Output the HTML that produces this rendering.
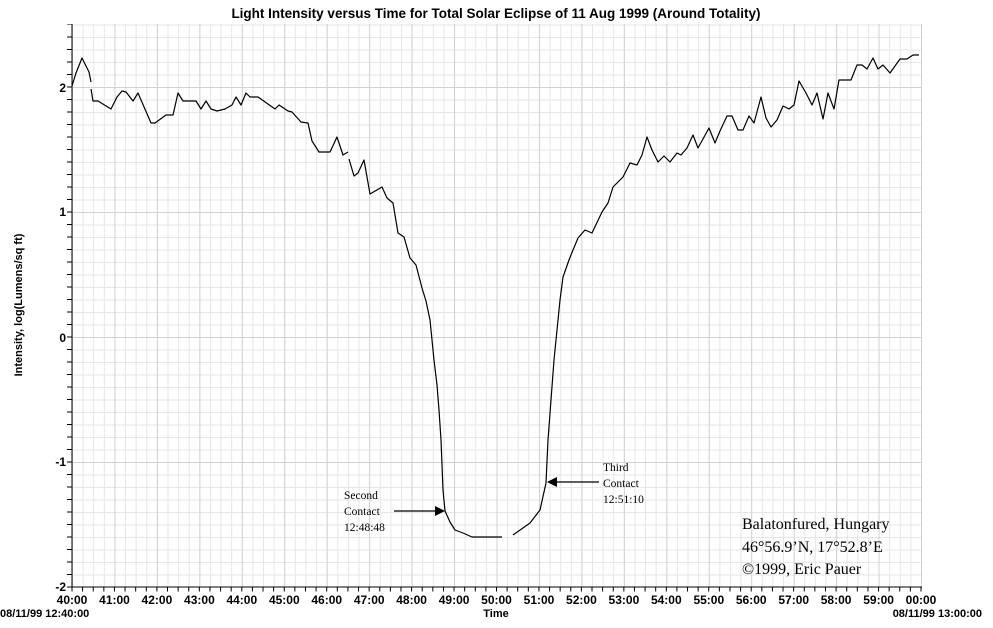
<!DOCTYPE html>
<html><head><meta charset="utf-8"><style>
html,body{margin:0;padding:0;background:#fff}
svg{display:block}
</style></head><body>
<svg width="993" height="628" xmlns="http://www.w3.org/2000/svg">
<defs>
<pattern id="minor" patternUnits="userSpaceOnUse" x="72" y="24.5" width="10.6125" height="12.5">
<rect x="0" y="0" width="1" height="12.5" fill="#e6e6e6"/>
<rect x="0" y="0" width="10.6125" height="1" fill="#e6e6e6"/>
</pattern>
<pattern id="majorv" patternUnits="userSpaceOnUse" x="72" y="0" width="42.45" height="10">
<rect x="0" y="0" width="1" height="10" fill="#d2d2d2"/>
</pattern>
<pattern id="majorh" patternUnits="userSpaceOnUse" x="0" y="87" width="10" height="125">
<rect x="0" y="0" width="10" height="1" fill="#d2d2d2"/>
</pattern>
</defs>
<rect width="993" height="628" fill="#fff"/>
<rect x="72" y="24" width="850" height="563" fill="url(#minor)"/>
<rect x="72" y="24" width="850" height="563" fill="url(#majorv)"/>
<rect x="72" y="24" width="850" height="563" fill="url(#majorh)"/>
<line x1="72" y1="24" x2="72" y2="587" stroke="#000"/>
<line x1="72" y1="587" x2="922" y2="587" stroke="#000"/>
<line x1="69.5" y1="24.5" x2="69.5" y2="588" stroke="#000" stroke-width="5" stroke-dasharray="1 11.5" stroke-dashoffset="0.5"/>
<line x1="71.5" y1="589.5" x2="922" y2="589.5" stroke="#000" stroke-width="4" stroke-dasharray="1 9.6125"/>
<g font-family="Liberation Sans, sans-serif" font-weight="bold" font-size="12" fill="#000">
<text x="496" y="18" text-anchor="middle" font-size="13.5">Light Intensity versus Time for Total Solar Eclipse of 11 Aug 1999 (Around Totality)</text>
<text x="66" y="92" text-anchor="end">2</text>
<text x="66" y="216" text-anchor="end">1</text>
<text x="66" y="342" text-anchor="end">0</text>
<text x="66" y="466" text-anchor="end">-1</text>
<text x="66" y="591" text-anchor="end">-2</text>
<text transform="translate(22,305) rotate(-90)" text-anchor="middle" font-size="11">Intensity, log(Lumens/sq ft)</text>
<text x="496" y="617" text-anchor="middle" font-size="11">Time</text>
<text x="0" y="617" font-size="11">08/11/99 12:40:00</text>
<text x="982" y="617" text-anchor="end" font-size="11">08/11/99 13:00:00</text>
<text x="72" y="604" text-anchor="middle">40:00</text>
<text x="114.5" y="604" text-anchor="middle">41:00</text>
<text x="156.9" y="604" text-anchor="middle">42:00</text>
<text x="199.4" y="604" text-anchor="middle">43:00</text>
<text x="241.8" y="604" text-anchor="middle">44:00</text>
<text x="284.3" y="604" text-anchor="middle">45:00</text>
<text x="326.7" y="604" text-anchor="middle">46:00</text>
<text x="369.2" y="604" text-anchor="middle">47:00</text>
<text x="411.6" y="604" text-anchor="middle">48:00</text>
<text x="454.1" y="604" text-anchor="middle">49:00</text>
<text x="496.5" y="604" text-anchor="middle">50:00</text>
<text x="539" y="604" text-anchor="middle">51:00</text>
<text x="581.4" y="604" text-anchor="middle">52:00</text>
<text x="623.9" y="604" text-anchor="middle">53:00</text>
<text x="666.3" y="604" text-anchor="middle">54:00</text>
<text x="708.8" y="604" text-anchor="middle">55:00</text>
<text x="751.2" y="604" text-anchor="middle">56:00</text>
<text x="793.7" y="604" text-anchor="middle">57:00</text>
<text x="836.1" y="604" text-anchor="middle">58:00</text>
<text x="878.6" y="604" text-anchor="middle">59:00</text>
<text x="921" y="604" text-anchor="middle">00:00</text>
</g>
<g fill="none" stroke="#000" stroke-width="1.2" stroke-linejoin="round">
<polyline points="72,86 76,73 82,58 89,72 91,82"/>
<polyline points="91,89 93,101 98,101 111,109 117,97 122,91 126,92 133,101 138,93 151,123 155,123 166,115 173,115 178,93 183,101 196,101 201,109 206,101 211,109 217,111 225,109 232,105 236,97 241,105 246,93 250,97 258,97 275,109 279,105 288,111 292,112 301,122 308,123 312,141 319,152 330,152 337,137 343,155 348,152"/>
<polyline points="349,159 354,176 358,173 364,160 370,194 382,187 387,198 393,203 398,233 404,237 410,258 416,265 422,288 426,301 430,320 431,330 434,360 437,385 439,410 441,440 443,490 445,511 450,522 455,530 463,533 472,537 502,537"/>
<polyline points="513,535 530,523 540,510 546,483 548,440 551,400 554,360 560,300 563,277 569,260 573,250 578,238 585,230 592,233 602,212 608,203 613,187 623,177 630,163 637,165 642,155 647,137 652,150 658,162 664,156 670,162 677,153 681,155 687,148 693,135 698,148 709,128 715,143 720,131 727,116 732,116 738,130 743,130 749,116 754,123 761,97 766,118 771,127 777,120 783,106 789,109 794,105 799,81 806,93 812,105 817,93 823,119 828,93 834,109 839,80 851,80 857,65 862,65 867,69 873,58 878,69 883,65 890,73 900,59 907,59 913,55 919,55"/>
</g>
<g stroke="#000" stroke-width="1.2">
<line x1="394" y1="511" x2="436" y2="511"/>
<line x1="557" y1="482" x2="599" y2="482"/>
</g>
<polygon points="445,511 435,506 435,516" fill="#000"/>
<polygon points="547,482 557,477 557,487" fill="#000"/>
<g font-family="Liberation Serif, serif" font-size="11.5" fill="#000">
<text x="344" y="499">Second</text>
<text x="344" y="515">Contact</text>
<text x="344" y="531">12:48:48</text>
<text x="603" y="471">Third</text>
<text x="603" y="487">Contact</text>
<text x="603" y="503">12:51:10</text>
</g>
<g font-family="Liberation Serif, serif" font-size="16" fill="#000">
<text x="742" y="529">Balatonfured, Hungary</text>
<text x="742" y="552">46°56.9’N, 17°52.8’E</text>
<text x="742" y="574">©1999, Eric Pauer</text>
</g>
</svg>
</body></html>
